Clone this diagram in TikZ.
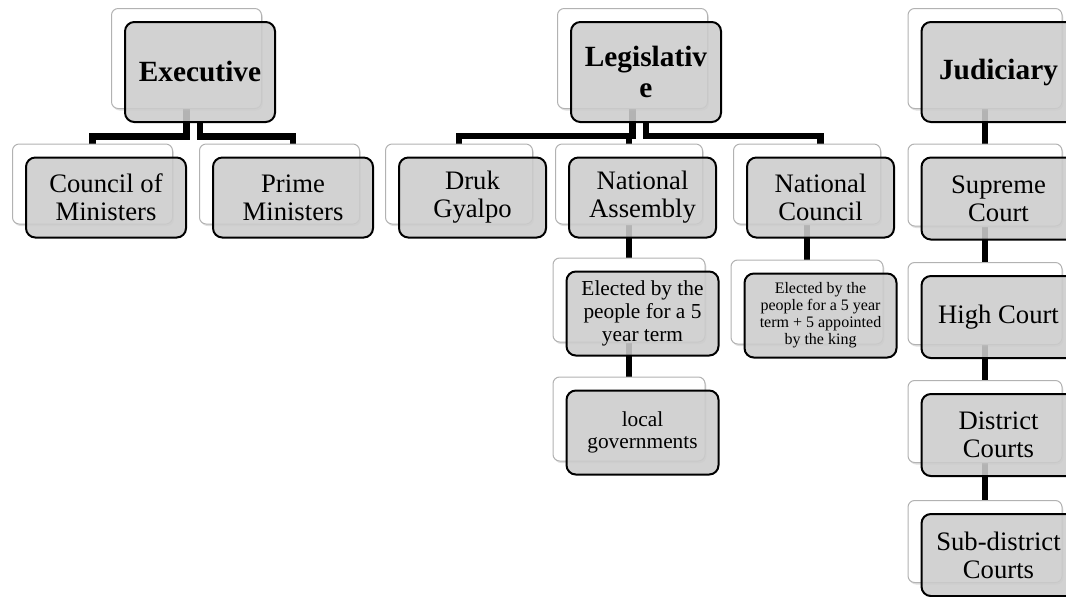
\documentclass[tikz,border=0pt]{standalone}
\usepackage{fontspec}
\setmainfont{Liberation Serif}
\usetikzlibrary{shadows,positioning}
\pgfdeclarelayer{background}
\pgfsetlayers{background,main}
\tikzset{
  backbox/.style={draw=black!30, line width=0.75pt, fill=white, rounded corners=5pt,
    drop shadow={opacity=0.25, shadow xshift=1pt, shadow yshift=-1.5pt}},
  frontbox/.style={draw=black, line width=1.5pt, fill=black!20, fill opacity=0.88,
    draw opacity=1, text opacity=1, rounded corners=7pt, align=center, inner sep=1pt},
  headtext/.style={font=\bfseries\fontsize{22}{23}\selectfont},
  boxtext/.style={font=\fontsize{20}{21}\selectfont},
  midtext/.style={font=\fontsize{16}{17}\selectfont},
  smalltext/.style={font=\fontsize{12}{12.75}\selectfont},
  topsize/.style={minimum width=112.5pt, minimum height=75pt},
  judtopsize/.style={minimum width=115.5pt, minimum height=75pt},
  execsize/.style={minimum width=120pt, minimum height=60pt},
  legsize/.style={minimum width=110.25pt, minimum height=60pt},
  nasize/.style={minimum width=114pt, minimum height=63pt},
  judsize/.style={minimum width=115.5pt, minimum height=61.5pt},
  conn/.style={line width=5pt}
}
\begin{document}
\begin{tikzpicture}[x=0.75pt,y=-0.75pt]
  \useasboundingbox (0,0) rectangle (1066,596);
  % back layer
  \path
    (186.5,58.5) node[backbox,topsize] (exec-bg){}
    (632.5,58.5) node[backbox,topsize] (leg-bg){}
    (985,58.5) node[backbox,judtopsize] (jud-bg){}
    (92.5,184) node[backbox,execsize] (council-bg){}
    (279.5,184) node[backbox,execsize] (pm-bg){}
    (459,184) node[backbox,legsize] (druk-bg){}
    (629,184) node[backbox,legsize] (na-bg){}
    (807,184) node[backbox,legsize] (nc-bg){}
    (629,300) node[backbox,nasize] (elect-bg){}
    (629,419) node[backbox,nasize] (local-bg){}
    (807,302) node[backbox,nasize] (ncx-bg){}
    (985,185) node[backbox,judsize] (sup-bg){}
    (985,303.5) node[backbox,judsize] (high-bg){}
    (985,421.5) node[backbox,judsize] (dist-bg){}
    (985,541.5) node[backbox,judsize] (sub-bg){};
  % front layer
  \path
    ([shift={(13.5,13.5)}]exec-bg) node[frontbox,topsize,headtext] (exec){Executive}
    ([shift={(13.5,13.5)}]leg-bg) node[frontbox,topsize,headtext] (leg){Legislativ\\e}
    ([shift={(13.5,13.5)}]jud-bg) node[frontbox,judtopsize,headtext] (jud){Judiciary}
    ([shift={(13.5,13.5)}]council-bg) node[frontbox,execsize,boxtext] (council){Council of\\Ministers}
    ([shift={(13.5,13.5)}]pm-bg) node[frontbox,execsize,boxtext] (pm){Prime\\Ministers}
    ([shift={(13.5,13.5)}]druk-bg) node[frontbox,legsize,boxtext] (druk){Druk\\Gyalpo}
    ([shift={(13.5,13.5)}]na-bg) node[frontbox,legsize,boxtext] (na){National\\Assembly}
    ([shift={(13.5,13.5)}]nc-bg) node[frontbox,legsize,boxtext] (nc){National\\Council}
    ([shift={(13.5,13.5)}]elect-bg) node[frontbox,nasize,midtext] (elect){Elected by the\\people for a 5\\year term}
    ([shift={(13.5,13.5)}]local-bg) node[frontbox,nasize,midtext] (local){local\\governments}
    ([shift={(13.5,13.5)}]ncx-bg) node[frontbox,nasize,smalltext] (ncx){Elected by the\\people for a 5 year\\term + 5 appointed\\by the king}
    ([shift={(13.5,13.5)}]sup-bg) node[frontbox,judsize,boxtext] (sup){Supreme\\Court}
    ([shift={(13.5,13.5)}]high-bg) node[frontbox,judsize,boxtext] (high){High Court}
    ([shift={(13.5,13.5)}]dist-bg) node[frontbox,judsize,boxtext] (dist){District\\Courts}
    ([shift={(13.5,13.5)}]sub-bg) node[frontbox,judsize,boxtext] (sub){Sub-district\\Courts};
  \coordinate (execbar) at (0,136.5);
  \coordinate (legbar) at (0,136);
  \begin{pgfonlayer}{background}
    \draw[conn] (exec-bg) -- (exec-bg |- execbar) -| (council-bg.north);
    \draw[conn] (exec) -- (exec |- execbar) -| (pm.north);
    \draw[conn] (leg-bg) -- (leg-bg |- legbar) -| (druk-bg.north);
    \draw[conn] (leg-bg) -- (leg-bg |- legbar) -| (na-bg.north);
    \draw[conn] (leg) -- (leg |- legbar) -| (nc.north);
    \draw[conn] (na-bg) -- (elect-bg.north);
    \draw[conn] (elect-bg) -- (local-bg.north);
    \draw[conn] (nc-bg) -- (ncx-bg.north);
    \draw[conn] (jud-bg) -- (sup-bg.north);
    \draw[conn] (sup-bg) -- (high-bg.north);
    \draw[conn] (high-bg) -- (dist-bg.north);
    \draw[conn] (dist-bg) -- (sub-bg.north);
  \end{pgfonlayer}
\end{tikzpicture}
\end{document}
